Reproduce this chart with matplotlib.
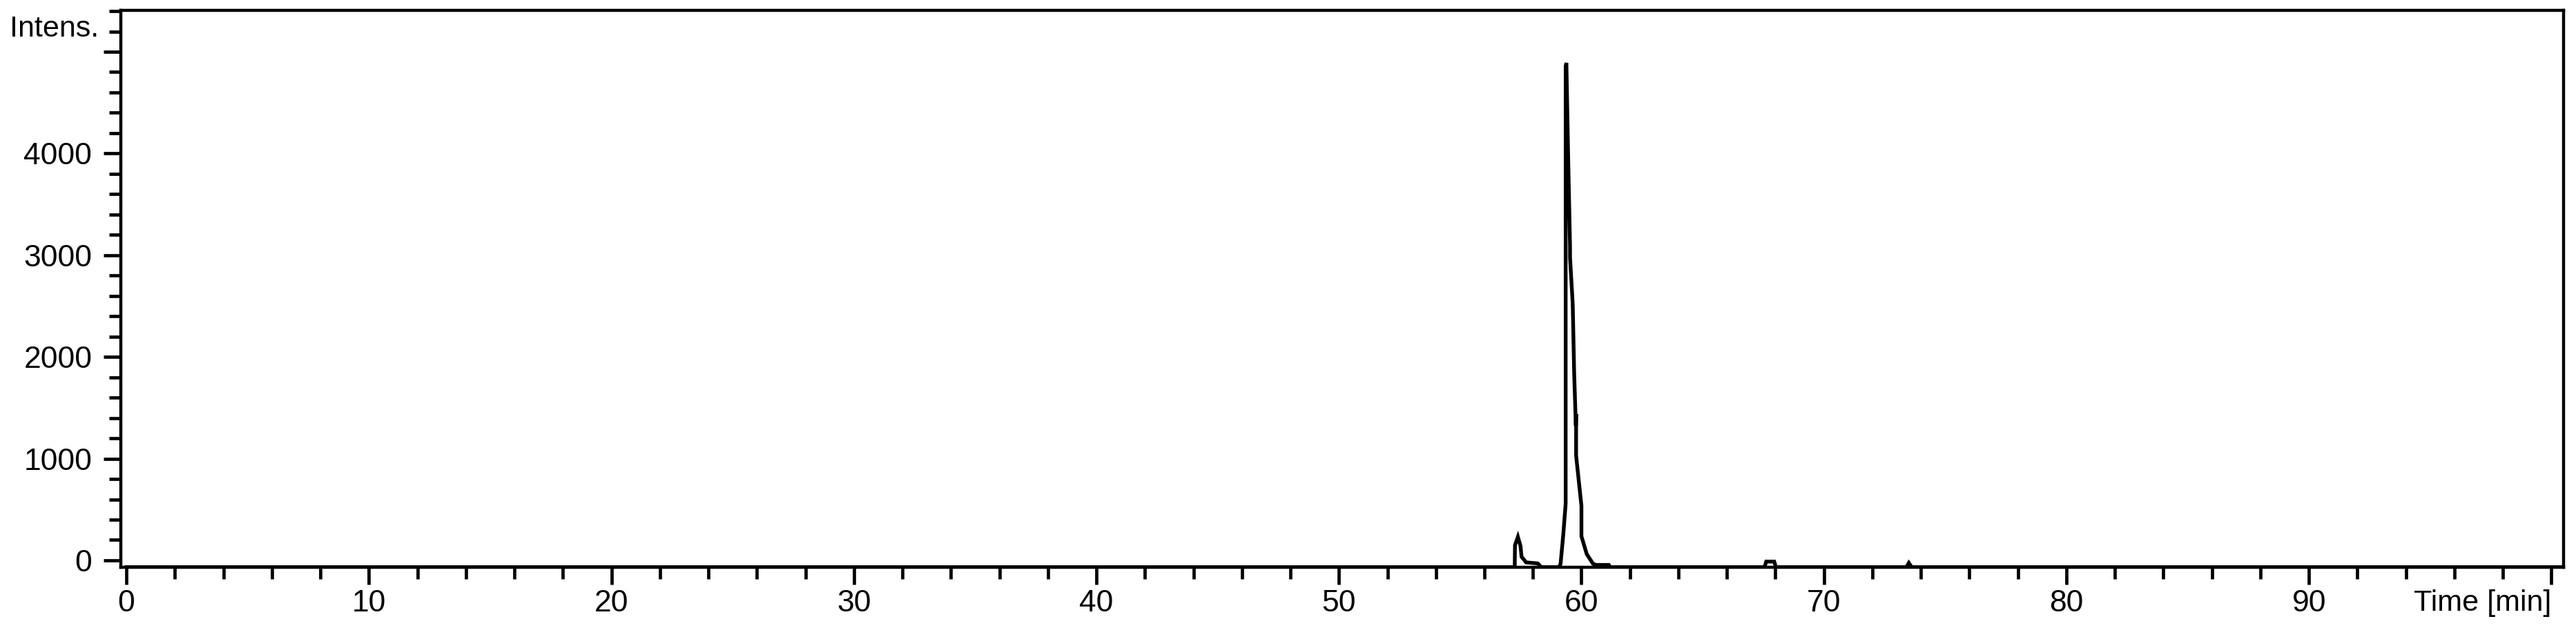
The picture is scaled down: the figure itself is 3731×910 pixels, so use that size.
import matplotlib
matplotlib.use("Agg")
import matplotlib.pyplot as plt
from matplotlib.ticker import MultipleLocator

plt.rcParams['font.family'] = ['Liberation Sans', 'DejaVu Sans']

# chromatogram trace (time in min, intensity)
time_min = [0.0, 57.25, 57.26, 57.38, 57.49, 57.53, 57.72, 58.20, 58.34,
            59.08, 59.14, 59.25, 59.35, 59.35, 59.38, 59.45, 59.53, 59.53,
            59.64, 59.70, 59.77, 59.78, 59.78, 60.00, 60.00, 60.22, 60.48,
            60.60, 61.13, 61.18, 67.55, 67.62, 67.95, 68.02, 73.40, 73.50,
            73.62, 100.5]
intensity = [-67, -67, 149, 231, 138, 36, -20, -30, -67,
             -67, -34, 250, 556, 4860, 4890, 4000, 3087, 2978,
             2524, 1845, 1323, 1438, 1031, 536, 237, 61, -34,
             -45, -45, -67, -67, -12, -12, -67, -67, -25,
             -67, -67]

x_major = [0, 10, 20, 30, 40, 50, 60, 70, 80, 90, 100]
x_labels = ['0', '10', '20', '30', '40', '50', '60', '70', '80', '90', '']
y_major = [0, 1000, 2000, 3000, 4000, 5000]
y_labels = ['0', '1000', '2000', '3000', '4000', '']

W, H = 3731, 910
fig = plt.figure(figsize=(W / 100, H / 100), dpi=100)
ax = fig.add_axes([175 / W, 1 - 822 / H, (3713 - 175) / W, (822 - 15) / H])

ax.plot(time_min, intensity, color='black', lw=3.9, solid_joinstyle='miter')

ax.set_xlim(-0.23, 100.5)
ax.set_ylim(-68, 5407)

ax.set_xticks(x_major)
ax.set_xticklabels(x_labels)
ax.set_yticks(y_major)
ax.set_yticklabels(y_labels)
ax.xaxis.set_minor_locator(MultipleLocator(2))
ax.yaxis.set_minor_locator(MultipleLocator(200))

ax.tick_params(axis='both', which='major', direction='out', length=18, width=3.4,
               labelsize=32, color='black')
ax.tick_params(axis='both', which='minor', direction='out', length=12, width=3.4,
               color='black')
ax.tick_params(axis='x', which='major', pad=5)
ax.tick_params(axis='y', which='major', pad=12)

for side in ['left', 'right', 'top', 'bottom']:
    ax.spines[side].set_linewidth(3.2)
    ax.spines[side].set_color('black')

fig.text(143 / W, 1 - 53 / H, 'Intens.', ha='right', va='baseline', fontsize=31)
fig.text(3695 / W, 1 - 885 / H, 'Time [min]', ha='right', va='baseline', fontsize=31)

fig.savefig('out.png', dpi=100, facecolor='white')
